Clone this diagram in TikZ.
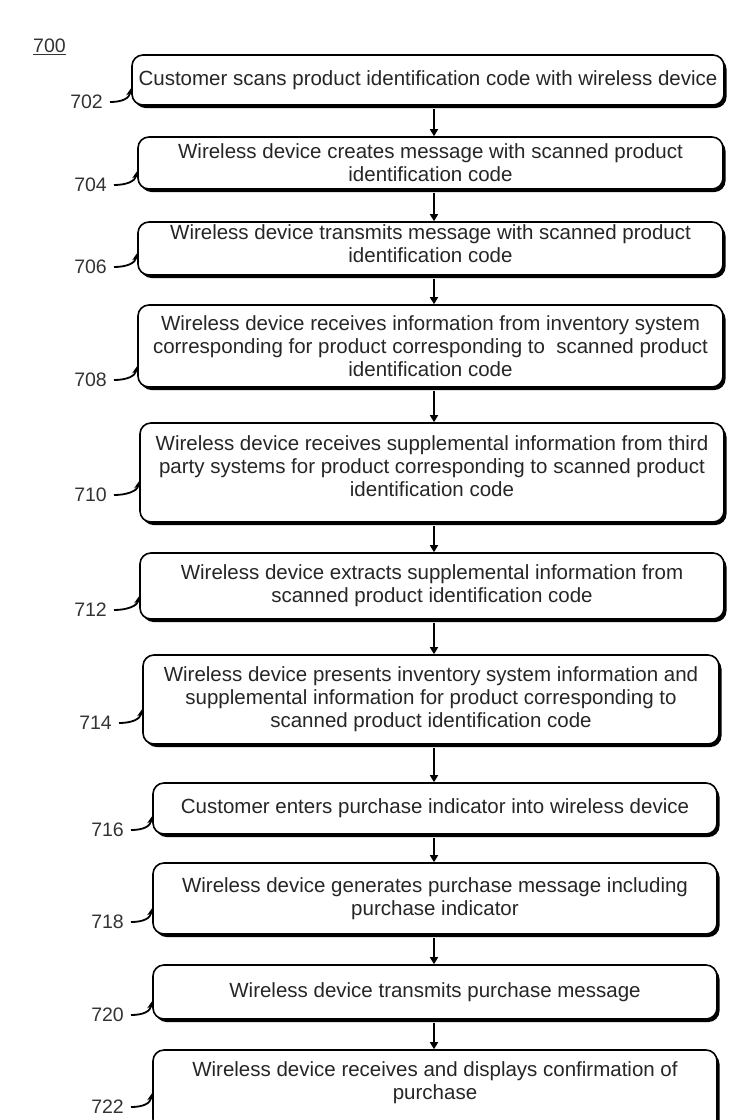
\documentclass[tikz,border=0pt]{standalone}
\usepackage{fontspec}
\setmainfont{Liberation Sans}
\usetikzlibrary{calc,shadows,arrows.meta}
\begin{document}
\begin{tikzpicture}[x=1pt,y=-1pt,
  stepbox/.style={draw=black, line width=1.6pt, rounded corners=11pt, fill=white, align=center, inner sep=0pt,
    font=\fontsize{20.5}{23}\selectfont, text=black!85,
    drop shadow={shadow xshift=2.5pt, shadow yshift=-3pt, fill=black, opacity=1}},
  ref/.style={font=\fontsize{19.5}{21}\selectfont, text=black!80, anchor=east, inner sep=0pt},
  flow/.style={line width=1.4pt, -{Triangle[length=7pt,width=8pt]}},
  leader/.style={line width=1.8pt, -{Stealth[length=8pt,width=7pt]}}
]
\useasboundingbox (0,0) rectangle (729,1120);
\clip (0,0) rectangle (729,1120);

\node[ref, anchor=west] (fig) at (33,47) {\underline{700}};

\node[stepbox, minimum width=592pt, minimum height=50pt] (b702) at (428,80)
  {Customer scans product identification code with wireless device};
\node[stepbox, minimum width=585pt, minimum height=52pt] (b704) at (430.5,163)
  {Wireless device creates message with scanned product\\ identification code};
\node[stepbox, minimum width=585pt, minimum height=53pt, text depth=10pt] (b706) at (430.5,248.5)
  {Wireless device transmits message with scanned product\\ identification code};
\node[stepbox, minimum width=585pt, minimum height=82pt] (b708) at (430.5,346)
  {Wireless device receives information from inventory system\\ corresponding for product corresponding to\ \ scanned product\\ identification code};
\node[stepbox, minimum width=584pt, minimum height=99pt, text depth=13pt] (b710) at (432,472.5)
  {Wireless device receives supplemental information from third\\ party systems for product corresponding to scanned product\\ identification code};
\node[stepbox, minimum width=584pt, minimum height=66pt] (b712) at (432,586)
  {Wireless device extracts supplemental information from\\ scanned product identification code};
\node[stepbox, minimum width=576pt, minimum height=89pt] (b714) at (431,699.5)
  {Wireless device presents inventory system information and\\ supplemental information for product corresponding to\\ scanned product identification code};
\node[stepbox, minimum width=564pt, minimum height=51pt] (b716) at (435,808.5)
  {Customer enters purchase indicator into wireless device};
\node[stepbox, minimum width=564pt, minimum height=71pt] (b718) at (435,898.5)
  {Wireless device generates purchase message including\\ purchase indicator};
\node[stepbox, minimum width=564pt, minimum height=54pt] (b720) at (435,992)
  {Wireless device transmits purchase message};
\node[stepbox, minimum width=564pt, minimum height=80pt, text depth=18pt] (b722) at (435,1090)
  {Wireless device receives and displays confirmation of\\ purchase};

\node[ref] (l702) at (103,102) {702};
\node[ref] (l704) at (107,185) {704};
\node[ref] (l706) at (107,267) {706};
\node[ref] (l708) at (107,380) {708};
\node[ref] (l710) at (107,495) {710};
\node[ref] (l712) at (107,610) {712};
\node[ref] (l714) at (112,723) {714};
\node[ref] (l716) at (124,830) {716};
\node[ref] (l718) at (124,922) {718};
\node[ref] (l720) at (124,1015) {720};
\node[ref] (l722) at (124,1107) {722};

\foreach \n in {702,704,706,708,710,712,714,716,718,720,722}{
  \draw[leader] ($(l\n.east)+(7,0)$) .. controls +(13,0) and +(-2,10) .. ($(l\n.east -| b\n.west)+(0,-14)$);
}

\coordinate (ax) at (434,0);
\foreach \a/\b in {702/704,704/706,706/708,708/710,710/712,712/714,714/716,716/718,718/720,720/722}{
  \draw[flow] ($(b\a.south -| ax)+(0,3)$) -- (b\b.north -| ax);
}
\end{tikzpicture}
\end{document}
